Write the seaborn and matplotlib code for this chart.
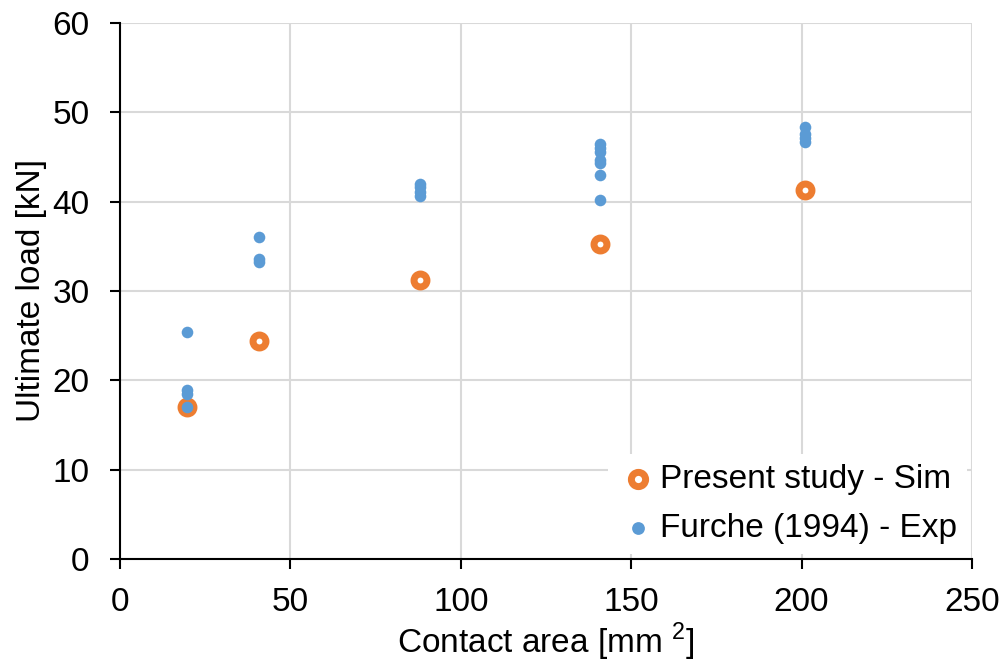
import numpy as np
import pandas as pd
import matplotlib
matplotlib.use("Agg")
import matplotlib.pyplot as plt
import seaborn as sns

# Present study - simulation
sim_area = [19.6, 40.7, 88.0, 140.9, 201.1]
sim_load = [17.0, 24.4, 31.2, 35.3, 41.3]

# Furche (1994) - experiments
exp_area = [19.6]*4 + [40.7]*3 + [88.0]*4 + [140.9]*7 + [201.1]*4
exp_load = [25.4, 18.9, 18.5, 17.0,
            36.1, 33.6, 33.2,
            42.0, 41.6, 41.1, 40.6,
            46.4, 46.0, 45.6, 44.7, 44.3, 43.0, 40.2,
            48.4, 47.6, 47.1, 46.7]

sim = pd.DataFrame({'area': sim_area, 'load': sim_load})
exp = pd.DataFrame({'area': exp_area, 'load': exp_load})

sns.set_theme(style='white')
plt.rcParams['font.family'] = ['Liberation Sans', 'DejaVu Sans']
plt.rcParams['mathtext.fontset'] = 'custom'
plt.rcParams['mathtext.rm'] = 'Liberation Sans'

fs = 24
fig = plt.figure(figsize=(10.04, 6.66), dpi=100)
ax = fig.add_axes([120/1004, 1-559/666, (972-120)/1004, (559-23)/666])

sns.scatterplot(data=sim, x='area', y='load', ax=ax, s=87, marker='o',
                facecolor='white', edgecolor='#ED7D31', linewidth=5,
                label='Present study - Sim', zorder=3)
sns.scatterplot(data=exp, x='area', y='load', ax=ax, s=70, marker='o',
                color='#5B9BD5', linewidth=0,
                label='Furche (1994) - Exp', zorder=4)

ax.set_xlim(0, 250)
ax.set_ylim(0, 60)
ax.set_xticks(np.arange(0, 251, 50))
ax.set_yticks(np.arange(0, 61, 10))
ax.grid(True, color='#D9D9D9', linewidth=1.5)
ax.set_axisbelow(True)
for s in ['top', 'right']:
    ax.spines[s].set_visible(False)
for s in ['left', 'bottom']:
    ax.spines[s].set_color('black')
    ax.spines[s].set_linewidth(1.5)
ax.tick_params(axis='both', direction='out', length=7, width=1.5,
               color='black', labelsize=fs, labelcolor='black',
               bottom=True, left=True)
ax.tick_params(axis='x', pad=13)
ax.tick_params(axis='y', pad=15)

ax.set_xlabel('Contact area [mm $^{2}$]', fontsize=fs, color='black', labelpad=2)
ax.set_ylabel('Ultimate load [kN]', fontsize=fs, color='black', labelpad=4)

leg = ax.legend(loc='lower right', bbox_to_anchor=(1.0, 0.0), fontsize=fs,
                frameon=True, framealpha=1, edgecolor='white', facecolor='white',
                labelcolor='black', handletextpad=0.05, handlelength=1.2,
                borderaxespad=0.15, labelspacing=0.55, borderpad=0.3,
                markerscale=1.1)
leg.get_frame().set_linewidth(0)

fig.savefig('out.png', dpi=100)
